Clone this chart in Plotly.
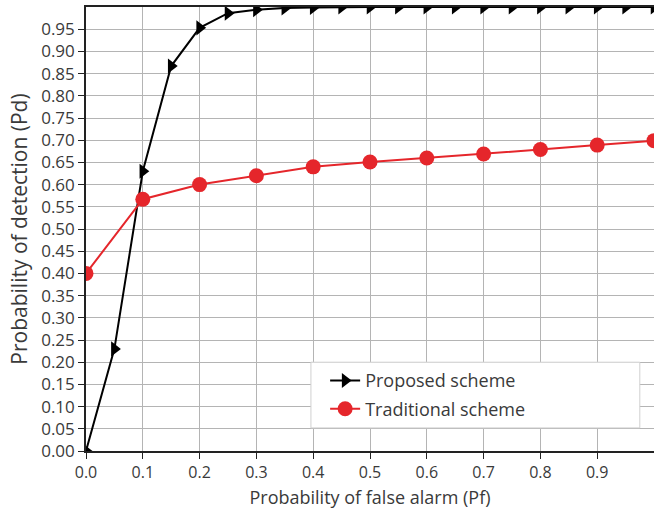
import plotly.graph_objects as go

pf_proposed = [0.0, 0.05, 0.1, 0.15, 0.2, 0.25, 0.3, 0.35, 0.4, 0.45, 0.5, 0.55, 0.6, 0.65, 0.7, 0.75, 0.8, 0.85, 0.9, 0.95, 1.0]
pd_proposed = [0.0, 0.23, 0.63, 0.867, 0.953, 0.986, 0.994, 0.998, 0.999, 1.0, 1.0, 1.0, 1.0, 1.0, 1.0, 1.0, 1.0, 1.0, 1.0, 1.0, 1.0]

pf_traditional = [0.0, 0.1, 0.2, 0.3, 0.4, 0.5, 0.6, 0.7, 0.8, 0.9, 1.0]
pd_traditional = [0.40, 0.567, 0.60, 0.62, 0.64, 0.651, 0.66, 0.669, 0.679, 0.689, 0.699]

x_ticks = [0.0, 0.1, 0.2, 0.3, 0.4, 0.5, 0.6, 0.7, 0.8, 0.9]
y_ticks = [round(i * 0.05, 2) for i in range(20)]

FONT = "Open Sans"
TXT = "#3a3a3a"

fig = go.Figure()
fig.add_trace(go.Scatter(
    x=pf_proposed, y=pd_proposed, mode="lines+markers", name="Proposed scheme",
    line=dict(color="black", width=2),
    marker=dict(symbol="triangle-right", size=13, color="black"),
    cliponaxis=True, legendgroup="a",
))
fig.add_trace(go.Scatter(
    x=pf_traditional, y=pd_traditional, mode="lines+markers", name="Traditional scheme",
    line=dict(color="#e5262b", width=2),
    marker=dict(symbol="circle", size=15, color="#e5262b"),
    cliponaxis=True, legendgroup="b",
))

fig.update_layout(
    width=654, height=519,
    margin=dict(l=86, r=0, t=7, b=68),
    plot_bgcolor="white", paper_bgcolor="white",
    font=dict(family=FONT, size=16, color=TXT),
    showlegend=True,
    legend=dict(
        x=0.421, y=0.2, xanchor="left", yanchor="top",
        bgcolor="rgba(0,0,0,0)", borderwidth=0,
        font=dict(family=FONT, size=18, color=TXT),
        tracegroupgap=2,
    ),
    shapes=[dict(
        type="rect", xref="paper", yref="paper",
        x0=0.396, x1=0.975, y0=0.052, y1=0.2,
        line=dict(color="#d0d0d0", width=1), fillcolor="white", layer="above",
    )],
    xaxis=dict(
        range=[0, 1.0], tickvals=x_ticks, ticktext=[f"{v:.1f}" for v in x_ticks],
        showgrid=True, gridcolor="#b4b4b4", gridwidth=1.2,
        showline=True, linecolor="#222222", linewidth=1.6, mirror=True,
        ticks="outside", ticklen=6, tickcolor="#222222",
        zeroline=False, tickfont=dict(family=FONT, size=16, color=TXT),
        title=dict(text="Probability of false alarm (Pf)", font=dict(size=18, family=FONT, color=TXT), standoff=9),
    ),
    yaxis=dict(
        range=[0, 1.0], tickvals=y_ticks, ticktext=[f"{v:.2f}" for v in y_ticks],
        showgrid=True, gridcolor="#b4b4b4", gridwidth=1.2,
        showline=True, linecolor="#222222", linewidth=1.6, mirror=False,
        ticks="outside", ticklen=6, tickcolor="#222222",
        zeroline=False, tickfont=dict(family=FONT, size=17, color=TXT),
        title=dict(text="Probability of detection (Pd)", font=dict(size=21, family=FONT, color=TXT), standoff=8),
    ),
)

fig.write_html("out.html")
